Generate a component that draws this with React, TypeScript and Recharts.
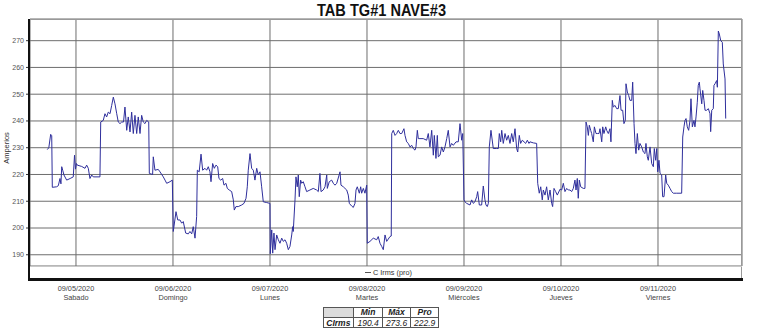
import React from 'react';
import { LineChart, Line, XAxis, YAxis, CartesianGrid } from 'recharts';

const TITLE = 'TAB TG#1 NAVE#3';
const SERIES_NAME = 'C Irms (pro)';
const Y_LABEL = 'Amperios';
const DAY_TICKS = [0, 1, 2, 3, 4, 5, 6];
const DAY_DATES = ['09/05/2020', '09/06/2020', '09/07/2020', '09/08/2020', '09/09/2020', '09/10/2020', '09/11/2020'];
const DAY_NAMES = ['Sabado', 'Domingo', 'Lunes', 'Martes', 'Miércoles', 'Jueves', 'Viernes'];
const Y_TICKS = [190, 200, 210, 220, 230, 240, 250, 260, 270];
const STAT_HEADERS = ['Min', 'Máx', 'Pro'];
const STAT_ROW = 'CIrms';
const STAT_VALUES = ['190.4', '273.6', '222.9'];

// [time in days since 09/05/2020 00:00, amperes]
const FRI_SAT: [number, number][] = [
  [-0.296, 229.3], [-0.28, 230.0], [-0.261, 235.0], [-0.25, 234.5], [-0.244, 215.2], [-0.2, 215.4],
  [-0.182, 215.8], [-0.165, 218.5], [-0.155, 216.5], [-0.147, 222.9], [-0.137, 221.6], [-0.124, 219.8],
  [-0.096, 217.9], [-0.06, 218.5], [-0.028, 219.1], [-0.015, 227.2], [-0.005, 222.0], [0.005, 224.1],
  [0.013, 223.5], [0.059, 223.0], [0.093, 222.3], [0.11, 223.5], [0.127, 222.3], [0.144, 218.5],
  [0.162, 219.8], [0.178, 219.1], [0.247, 219.1], [0.255, 239.6], [0.281, 240.2], [0.299, 242.7],
  [0.316, 241.5], [0.333, 243.3], [0.351, 242.7], [0.368, 245.8], [0.385, 248.9], [0.402, 246.4],
  [0.42, 242.7], [0.436, 239.6], [0.454, 239.0], [0.471, 239.6], [0.49, 239.6], [0.505, 245.2],
  [0.523, 236.5], [0.539, 241.5], [0.557, 235.9], [0.574, 243.3], [0.591, 235.3], [0.608, 242.1],
  [0.626, 235.3], [0.642, 241.5], [0.66, 235.3], [0.677, 242.1], [0.694, 239.6], [0.711, 239.0],
  [0.729, 240.2], [0.75, 239.6], [0.756, 220.4], [0.79, 220.0], [0.797, 226.6], [0.814, 221.6],
  [0.848, 221.9], [0.866, 221.0], [0.9, 219.1], [0.918, 217.9], [0.935, 216.7], [0.969, 217.3],
  [0.993, 217.9],
];
const SUN: [number, number][] = [
  [1.003, 198.7], [1.031, 206.1], [1.049, 203.0], [1.072, 203.0], [1.09, 201.8], [1.106, 202.4],
  [1.131, 198.1], [1.158, 197.8], [1.175, 198.7], [1.193, 197.8], [1.209, 200.5], [1.227, 196.2],
  [1.244, 204.3], [1.251, 221.6], [1.27, 221.0], [1.289, 227.6], [1.306, 221.6], [1.33, 222.3],
  [1.347, 221.6], [1.364, 222.9], [1.381, 221.0], [1.392, 217.3], [1.409, 224.1], [1.426, 222.3],
  [1.443, 223.5], [1.461, 222.9], [1.474, 218.5], [1.492, 217.9], [1.512, 218.5], [1.526, 216.0],
  [1.546, 216.7], [1.56, 214.8], [1.58, 214.2], [1.605, 213.6], [1.622, 210.5], [1.632, 206.7],
  [1.649, 208.0], [1.673, 208.0], [1.708, 208.6], [1.732, 209.2], [1.753, 211.1], [1.766, 215.4],
  [1.776, 221.6], [1.794, 227.8], [1.811, 222.3], [1.828, 221.6], [1.845, 217.9], [1.863, 222.3],
  [1.879, 219.8], [1.897, 221.0], [1.914, 215.4], [1.931, 209.8], [1.966, 209.5], [2.0, 209.2],
];
const MON: [number, number][] = [
  [2.003, 190.4], [2.018, 199.3], [2.028, 190.6], [2.041, 198.1], [2.052, 191.9], [2.069, 197.4],
  [2.086, 195.6], [2.103, 194.3], [2.121, 196.2], [2.137, 195.0], [2.155, 195.6], [2.172, 194.3],
  [2.189, 191.9], [2.206, 193.1], [2.224, 197.4], [2.234, 200.5], [2.24, 198.7], [2.258, 210.5],
  [2.268, 219.1], [2.281, 215.4], [2.292, 219.8], [2.302, 211.7], [2.316, 217.9], [2.327, 216.7],
  [2.343, 217.3], [2.361, 215.4], [2.378, 213.6], [2.412, 214.2], [2.446, 214.8], [2.481, 214.2],
  [2.498, 213.6], [2.515, 220.4], [2.526, 213.6], [2.549, 214.2], [2.567, 215.4], [2.585, 219.8],
  [2.591, 214.8], [2.611, 217.3], [2.636, 217.9], [2.653, 216.7], [2.67, 216.0], [2.688, 216.7],
  [2.722, 221.0], [2.732, 216.0], [2.756, 215.4], [2.773, 214.8], [2.791, 214.2], [2.807, 212.3],
  [2.818, 209.2], [2.842, 208.2], [2.859, 207.7], [2.876, 209.2], [2.887, 214.2], [2.9, 215.4],
  [2.921, 213.0], [2.935, 215.4], [2.945, 213.0], [2.962, 214.8], [2.979, 213.0], [2.997, 216.0],
];
const TUE: [number, number][] = [
  [3.003, 194.3], [3.031, 195.0], [3.065, 196.2], [3.1, 195.6], [3.116, 196.8], [3.134, 194.3],
  [3.152, 193.1], [3.168, 191.9], [3.186, 197.4], [3.203, 195.0], [3.237, 196.8], [3.25, 197.0],
  [3.255, 235.3], [3.271, 236.5], [3.289, 234.6], [3.306, 235.3], [3.323, 236.5], [3.34, 235.3],
  [3.358, 235.3], [3.381, 237.1], [3.392, 234.6], [3.409, 232.2], [3.426, 231.6], [3.443, 230.3],
  [3.461, 230.9], [3.477, 229.7], [3.495, 229.1], [3.505, 230.3], [3.519, 236.5], [3.529, 233.4],
  [3.546, 233.4], [3.58, 233.4], [3.615, 232.8], [3.632, 235.3], [3.649, 230.3], [3.667, 236.5],
  [3.684, 227.2], [3.694, 234.6], [3.711, 226.0], [3.725, 234.6], [3.735, 226.6], [3.753, 227.2],
  [3.77, 230.3], [3.787, 228.4], [3.804, 230.3], [3.822, 233.4], [3.838, 236.5], [3.856, 230.3],
  [3.873, 231.6], [3.89, 230.9], [3.918, 232.2], [3.941, 232.2], [3.959, 239.0], [3.976, 232.8],
  [3.987, 235.3],
];
const WED: [number, number][] = [
  [4.0, 210.5], [4.01, 209.8], [4.028, 209.2], [4.062, 208.6], [4.079, 210.5], [4.096, 209.2],
  [4.113, 209.8], [4.131, 211.7], [4.141, 213.6], [4.158, 208.6], [4.182, 208.6], [4.199, 215.7],
  [4.216, 210.5], [4.227, 208.6], [4.24, 208.0], [4.251, 209.2], [4.261, 230.3], [4.278, 236.5],
  [4.302, 229.7], [4.32, 229.7], [4.337, 229.7], [4.354, 229.7], [4.364, 235.3], [4.378, 232.2],
  [4.389, 236.5], [4.405, 231.6], [4.423, 235.3], [4.44, 232.8], [4.457, 234.6], [4.474, 231.6],
  [4.492, 235.3], [4.508, 232.2], [4.526, 237.1], [4.543, 229.7], [4.554, 228.4], [4.57, 234.6],
  [4.584, 231.6], [4.601, 232.8], [4.619, 232.2], [4.636, 231.6], [4.653, 232.8], [4.67, 231.6],
  [4.68, 232.2], [4.715, 231.8], [4.749, 231.6], [4.76, 216.7], [4.776, 213.0], [4.791, 215.4],
  [4.807, 210.5], [4.818, 214.2], [4.835, 212.3], [4.852, 215.4], [4.869, 210.5], [4.887, 214.2],
  [4.904, 209.2], [4.914, 208.0], [4.928, 214.8], [4.945, 213.6], [4.962, 212.3], [4.99, 214.5],
];
const THU: [number, number][] = [
  [5.007, 214.2], [5.024, 216.7], [5.041, 213.6], [5.059, 214.8], [5.075, 214.2], [5.093, 214.2],
  [5.11, 213.6], [5.127, 214.8], [5.144, 217.9], [5.155, 214.2], [5.168, 218.5], [5.178, 211.1],
  [5.189, 217.9], [5.203, 215.4], [5.23, 214.8], [5.247, 214.8], [5.258, 239.6], [5.271, 237.8],
  [5.282, 234.6], [5.292, 238.4], [5.306, 236.5], [5.316, 235.3], [5.333, 232.2], [5.344, 237.8],
  [5.361, 235.3], [5.374, 235.3], [5.392, 235.3], [5.402, 237.1], [5.42, 232.2], [5.43, 237.8],
  [5.443, 235.3], [5.461, 237.8], [5.471, 236.5], [5.488, 235.3], [5.505, 237.1], [5.515, 232.2],
  [5.529, 247.7], [5.539, 245.2], [5.557, 245.8], [5.574, 244.6], [5.591, 244.6], [5.608, 249.5],
  [5.619, 244.0], [5.636, 244.0], [5.649, 239.0], [5.663, 240.2], [5.67, 253.9], [5.684, 250.8],
  [5.698, 249.5], [5.711, 247.7], [5.729, 247.7], [5.739, 254.5], [5.753, 239.0], [5.763, 231.6],
  [5.773, 227.8], [5.787, 235.3], [5.801, 229.1], [5.814, 231.6], [5.832, 230.3], [5.849, 228.4],
  [5.866, 227.8], [5.876, 231.6], [5.89, 226.6], [5.9, 225.3], [5.918, 230.3], [5.935, 224.1],
  [5.952, 222.9], [5.962, 229.7], [5.976, 225.3], [5.987, 229.7], [5.997, 221.0],
];
const FRI: [number, number][] = [
  [6.01, 225.3], [6.021, 220.4], [6.038, 219.8], [6.048, 211.7], [6.062, 211.7], [6.079, 219.8],
  [6.09, 216.7], [6.106, 216.0], [6.124, 214.8], [6.141, 213.6], [6.158, 213.0], [6.193, 213.0],
  [6.227, 213.0], [6.244, 213.0], [6.255, 234.0], [6.268, 237.8], [6.278, 240.2], [6.289, 240.9],
  [6.302, 237.8], [6.316, 236.5], [6.33, 240.2], [6.34, 248.3], [6.354, 237.8], [6.371, 240.2],
  [6.381, 237.8], [6.392, 241.5], [6.405, 247.0], [6.415, 253.3], [6.426, 254.5], [6.433, 252.0],
  [6.451, 246.4], [6.461, 251.4], [6.474, 247.7], [6.485, 244.0], [6.502, 244.0], [6.519, 244.6],
  [6.536, 242.7], [6.543, 236.0], [6.554, 244.0], [6.57, 244.6], [6.577, 253.3], [6.588, 253.9],
  [6.605, 255.1], [6.612, 252.6], [6.622, 273.6], [6.632, 272.5], [6.647, 270.0], [6.663, 269.4],
  [6.673, 261.3], [6.691, 255.7], [6.698, 240.9],
];

const DATA = [...FRI_SAT, ...SUN, ...MON, ...TUE, ...WED, ...THU, ...FRI].map(([t, a]) => ({ t, a }));

const FONT = '"Liberation Sans", Arial, sans-serif';

const DayTick = (props: any) => {
  const { x, y, payload } = props;
  const i = Math.round(payload.value);
  return (
    <g>
      <text x={x} y={y + 25} textAnchor="middle" fontSize={7.3} fill="#444" fontFamily={FONT}>{DAY_DATES[i]}</text>
      <text x={x} y={y + 33.5} textAnchor="middle" fontSize={7.3} fill="#444" fontFamily={FONT}>{DAY_NAMES[i]}</text>
    </g>
  );
};

const cell = (w: number, extra: React.CSSProperties = {}): React.CSSProperties => ({
  width: w, boxSizing: 'border-box', borderRight: '1px solid #555', display: 'flex',
  alignItems: 'center', justifyContent: 'center', fontStyle: 'italic', fontSize: 8.5, color: '#222', ...extra,
});

export default function App() {
  const colW = [30.6, 29.4, 28, 28.6];
  return (
    <div style={{ position: 'absolute', left: 0, top: 0, width: 761, height: 328, background: '#fff', fontFamily: FONT, overflow: 'hidden' }}>
      <LineChart width={761} height={328} data={DATA} margin={{ top: 19, right: 19, bottom: 0, left: 0 }}>
        <CartesianGrid stroke="#6e6e6e" strokeWidth={1} />
        <XAxis type="number" dataKey="t" domain={[-0.474, 6.866]} ticks={DAY_TICKS} allowDataOverflow interval={0}
          tickSize={0} tickMargin={0} axisLine={false} tickLine={false} height={62} tick={<DayTick />} />
        <YAxis type="number" domain={[185.8, 278.1]} ticks={Y_TICKS} allowDataOverflow interval={0} width={30}
          axisLine={false} tickSize={4} tickMargin={2} tickLine={{ stroke: '#333' }}
          tick={{ fontSize: 7, fill: '#555', fontFamily: FONT }} />
        <Line type="linear" dataKey="a" name={SERIES_NAME} stroke="#2f2f9c" strokeWidth={1} dot={false} isAnimationActive={false} />
      </LineChart>

      {/* title */}
      <svg style={{ position: 'absolute', left: 0, top: 0 }} width={761} height={20}>
        <text x={381.5} y={16} textAnchor="middle" fontSize={16.5} fontWeight="bold" fill="#111" fontFamily={FONT}
          textLength={129} lengthAdjust="spacingAndGlyphs">{TITLE}</text>
      </svg>

      {/* y label */}
      <div style={{ position: 'absolute', left: 6, top: 148, transform: 'translate(-50%, -50%) rotate(-90deg)', fontSize: 7.5, color: '#333', whiteSpace: 'nowrap' }}>{Y_LABEL}</div>

      {/* frame */}
      <div style={{ position: 'absolute', left: 29, top: 19, width: 713, height: 260, borderTop: '1px solid #999', borderRight: '1px solid #999', boxSizing: 'border-box' }} />
      <div style={{ position: 'absolute', left: 30, top: 266, width: 712, height: 1, background: '#c8c8c8' }} />
      <div style={{ position: 'absolute', left: 27.5, top: 19, width: 2.5, height: 262, background: '#111' }} />
      <div style={{ position: 'absolute', left: 27.5, top: 278, width: 715, height: 2.5, background: '#111' }} />

      {/* legend */}
      <div style={{ position: 'absolute', left: 365, top: 268, height: 9, display: 'flex', alignItems: 'center', fontSize: 7.3, color: '#333', whiteSpace: 'nowrap' }}>
        <span style={{ display: 'inline-block', width: 6, height: 0, borderTop: '1px solid #555', marginRight: 2 }} />
        {SERIES_NAME}
      </div>

      {/* stats table */}
      <div style={{ position: 'absolute', left: 322.7, top: 306.7, width: 116.6, border: '1px solid #555', borderRight: 'none', boxSizing: 'border-box', background: '#fff' }}>
        <div style={{ display: 'flex', height: 9.3, borderBottom: '1px solid #555' }}>
          <div style={cell(colW[0], { background: '#dcdcdc' })} />
          {STAT_HEADERS.map((h, i) => (
            <div key={h} style={cell(colW[i + 1], { fontWeight: 'bold' })}>{h}</div>
          ))}
        </div>
        <div style={{ display: 'flex', height: 9.3 }}>
          <div style={cell(colW[0], { fontWeight: 'bold' })}>{STAT_ROW}</div>
          {STAT_VALUES.map((v, i) => (
            <div key={i} style={cell(colW[i + 1])}>{v}</div>
          ))}
        </div>
      </div>
    </div>
  );
}
